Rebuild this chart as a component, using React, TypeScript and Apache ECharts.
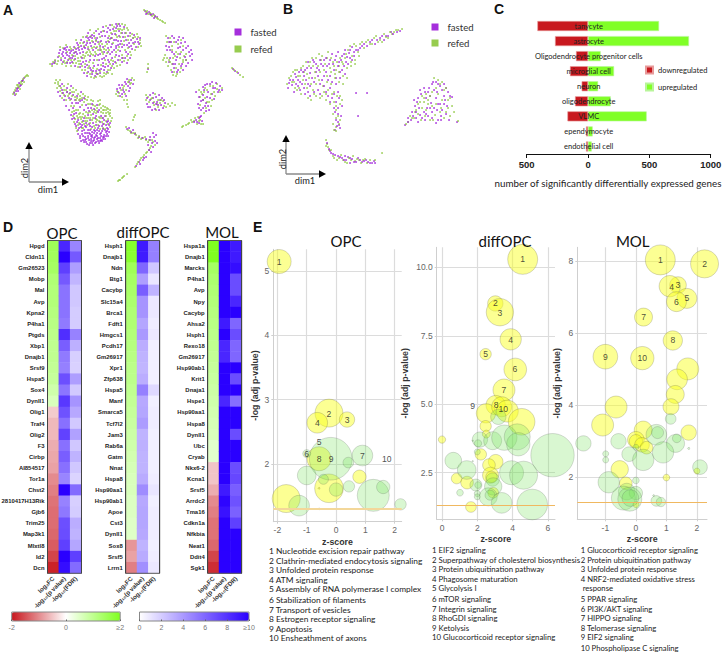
import React, { useEffect, useRef } from "react";
import * as echarts from "echarts";

const pairs = (f: number[]) => { const o: number[][] = []; for (let i = 0; i < f.length; i += 2) o.push([f[i], f[i + 1]]); return o; };

const tsneAFasted = pairs([52,64,54,63,60,50,62,54,64,49,66,53,67,47,69,56,71,51,65,58,68,60,61,60,58,57,63,62,72,62,75,59,77,54,79,50,81,46,83,52,85,48,87,43,89,40,91,46,93,50,95,44,97,38,99,34,101,41,103,47,105,36,107,32,109,42,111,38,113,29,115,34,117,26,119,31,121,41,123,37,118,45,114,50,110,54,106,56,102,59,98,55,94,60,90,56,86,61,82,58,125,33,128,36,131,40,134,35,137,39,139,44,136,47,132,49,128,54,125,58,122,62,127,63,130,58,118,60,113,64,108,66,104,70,100,73,96,71,92,74,88,72,94,66,98,65,85,67,81,64,75,66,70,63,116,55,120,51,111,47,96,31,92,35,88,33,84,42,78,45,74,47,103,27,110,25,116,24,120,26,70,53,73,50,76,52,63,56,66,50,88,38,90,37,93,42,96,48,100,50,104,52,108,48,112,44,116,40,119,36,122,47,108,60,103,63,99,60,95,76,91,70,87,76,84,73,127,45,133,43,130,33,
58,92,60,96,62,90,64,100,67,88,70,93,72,103,66,106,69,110,73,108,76,113,74,118,78,120,75,124,79,128,82,125,84,118,86,123,88,115,90,120,93,114,95,118,98,112,101,116,104,120,100,122,96,125,92,127,88,130,85,133,82,131,78,134,80,138,83,136,86,139,88,136,90,134,92,137,94,133,96,135,98,138,100,134,102,131,104,135,106,132,108,136,105,139,102,141,99,143,96,142,93,145,90,143,87,144,84,142,81,141,89,140,91,139,94,140,97,139,100,138,103,137,107,128,109,125,106,125,102,126,98,128,94,130,90,126,86,127,76,103,80,107,84,110,88,108,92,104,84,98,77,96,81,92,71,86,62,84,91,136,93,141,85,140,92,132,89,133,95,137,101,136,
14,93,16,91,18,88,20,86,19,83,22,81,24,78,21,85,17,89,145,11,147,13,149,12,151,15,153,14,155,16,157,17,
168,38,171,42,174,38,178,40,181,43,185,42,188,46,191,50,190,56,192,60,188,63,185,57,180,54,176,60,172,52,170,58,167,50,178,48,183,50,174,68,178,70,172,72,181,66,186,66,175,64,169,47,
118,92,120,88,122,85,125,82,128,86,131,80,129,91,124,92,126,96,120,96,127,79,133,84,
147,98,150,95,153,93,156,97,159,95,162,98,165,103,161,105,157,102,153,103,150,107,155,109,159,110,163,108,147,104,
203,87,207,84,212,82,216,83,220,86,222,90,218,92,213,88,208,92,203,95,199,97,201,101,206,103,210,98,214,99,208,106,203,108,201,110,206,111,196,120,199,118,201,116,194,122,199,123,202,121,233,69,235,71,238,73,
127,129,131,132,135,134,142,138,150,137,153,133,156,135,157,143,153,147,148,145,151,152,146,157,143,160,139,162,136,166,148,69,
55,61,59,53,63,52,65,48,67,55,69,50,70,58,73,56,74,53,76,49,78,48,80,53,82,49,84,47,86,45,88,49,90,43,92,38,94,36,96,40,98,42,100,46,102,36,104,31,106,42,108,38,110,30,112,34,114,40,116,46,118,41,120,44,122,33,124,45,126,40,129,43,131,46,133,38,135,42,138,42,140,38,116,28,119,24,124,27,108,28,101,32,86,37,81,40,77,43,72,58,67,63,80,67,83,62,87,65,90,68,93,71,97,74,101,69,105,67,109,62,112,58,115,62,119,56,122,58,126,52,129,47,111,68,107,72,103,66,99,70,90,60,95,56,100,54,104,58,108,52,112,52,116,48,
60,86,63,93,65,96,67,92,69,98,71,99,73,95,75,100,78,103,80,101,82,100,86,105,89,111,91,108,94,109,97,105,96,116,99,110,103,118,105,116,108,121,110,123,107,122,103,124,99,126,97,130,93,123,89,124,85,126,83,121,80,124,77,122,74,114,71,115,72,119,76,126,78,130,81,127,84,130,87,133,90,130,92,135,95,131,97,133,99,131,101,133,103,129,105,130,107,131,109,132,107,134,104,137,101,140,98,141,95,143,92,143,89,145,86,142,83,140,80,136,82,134,85,137,88,138,91,141,94,138,97,136,100,141,103,139,106,136,108,129,
15,95,18,91,23,80,146,14,150,14,154,18,169,42,172,36,176,42,179,37,183,38,186,48,189,52,186,60,182,64,177,57,173,64,170,50,166,46,177,72,183,70,174,54,169,62,192,54,180,47,119,85,123,90,126,84,130,88,122,94,117,89,129,82,150,100,153,98,156,104,160,100,164,100,148,107,152,110,158,105,205,85,210,84,215,88,219,90,212,94,207,97,203,100,198,104,205,106,209,110,204,90,196,92,199,108,197,122,200,117,129,128,133,130,139,137,146,139,150,140,154,137,155,141,152,143,149,150,144,158,140,164]);

const tsneARefedFront = pairs([50,64,53,62,57,64,59,56,61,58,64,61,66,66,69,59,72,55,74,60,76,63,78,58,80,61,83,55,85,56,87,52,89,50,91,54,93,55,95,52,97,47,99,44,101,50,103,54,105,46,107,44,109,36,111,33,112,25,114,27,118,24,122,24,124,29,126,33,127,28,121,33,117,37,113,43,109,50,105,60,101,65,97,69,93,63,89,62,85,70,82,70,87,73,91,77,96,77,100,76,104,76,108,73,110,70,114,68,117,66,120,65,124,61,128,60,131,55,122,55,118,50,125,50,128,48,134,44,100,37,96,41,92,41,88,47,84,46,80,43,83,37,87,36,76,40,90,30,94,33,98,29,103,31,106,26,116,31,120,37,124,41,128,40,133,38,137,34,140,40,141,46,70,47,66,45,75,48,60,47,71,66,65,63,55,60,111,60,107,53,115,57,102,44,97,60,93,68,89,66,78,67,112,74,106,64,
56,80,58,82,60,80,59,86,57,88,61,88,64,86,66,90,68,84,70,90,73,88,74,92,76,90,78,94,80,96,83,94,85,96,87,100,84,102,82,105,79,100,76,100,72,96,68,96,64,95,62,98,66,100,70,100,74,106,78,110,80,113,83,114,86,112,88,104,91,100,93,101,95,106,97,108,99,105,101,108,104,110,107,108,108,112,110,116,108,119,111,121,106,116,103,113,99,117,96,113,92,110,90,112,88,118,85,121,82,122,80,117,77,116,72,112,71,106,92,120,97,120,100,118,102,122,105,129,100,129,96,122,90,123,86,118,79,123,76,128,77,131,83,128,94,126,100,100,106,113,110,110,
13,94,15,90,17,85,19,87,21,82,23,79,25,77,27,75,28,76,24,82,20,89,16,94,18,85,22,84,144,10,146,12,148,14,150,13,152,16,154,15,157,18,160,20,163,22,165,23,
165,55,167,58,170,62,173,58,176,52,180,58,183,60,179,64,176,68,173,75,176,76,180,72,183,62,186,54,183,46,178,44,172,46,170,38,166,36,163,60,168,66,171,70,186,60,
116,94,118,96,121,90,124,86,128,82,130,84,132,78,134,80,122,97,124,100,127,104,128,107,
146,100,149,102,152,98,155,94,158,100,161,100,164,106,168,104,172,103,175,105,154,105,158,107,146,95,
199,90,201,92,205,88,210,86,214,92,217,89,222,88,211,94,205,98,209,102,200,105,211,106,204,113,183,126,186,125,189,123,192,122,195,118,198,117,197,124,203,124,200,120,232,68,234,70,237,72,240,75,243,77,148,64,148,68,147,72,133,120,134,117,135,115,
126,127,128,130,130,131,133,133,136,135,139,136,141,139,145,137,148,142,152,140,155,145,150,148,147,152,144,155,141,158,138,162,135,167,118,181,120,180,122,178,124,176,127,174]);

const tsneARefedBack = pairs([52,66,55,63,58,61,62,64,67,62,71,60,73,63,75,56,78,61,81,57,84,58,86,53,88,55,90,52,92,48,94,47,96,54,98,50,100,48,102,52,104,49,106,50,108,41,110,39,112,38,114,31,116,35,118,29,120,29,122,30,125,25,128,30,130,36,132,34,135,37,138,37,140,43,138,47,135,50,130,52,127,56,123,58,120,60,116,63,112,66,108,70,104,73,100,71,96,73,92,72,88,68,85,64,82,66,79,64,90,74,94,78,98,74,102,77,106,74,110,64,113,61,116,52,119,47,122,44,125,37,100,42,95,38,91,36,87,41,83,43,79,47,75,52,71,49,67,52,63,48,
55,83,58,84,60,91,62,93,64,90,67,92,69,94,72,92,75,97,77,98,80,99,82,98,85,99,88,97,90,104,93,105,95,110,98,101,100,104,103,106,105,107,108,109,110,113,112,118,109,114,106,110,103,110,101,112,97,111,94,112,91,115,88,113,85,116,82,117,79,114,76,110,74,111,73,116,75,119,78,118,81,119,84,124,87,121,90,118,93,118,96,119,99,121,102,118,104,124,106,121,108,124,110,127,103,128,98,125,95,128,91,129,87,125,82,128,78,125,74,122,
14,92,16,88,18,87,20,84,22,81,26,76,147,11,151,14,155,17,158,19,162,21,164,58,166,62,169,60,172,64,175,56,178,54,181,52,184,56,181,68,177,74,174,72,170,42,174,42,181,40,172,50,167,42,117,91,119,93,123,88,126,90,129,80,131,83,125,94,127,100,148,97,151,99,154,102,157,104,160,103,163,101,166,107,170,106,156,110,202,94,204,92,207,90,213,86,217,84,220,92,215,96,212,100,207,102,203,100,200,97,206,108,182,127,188,124,191,120,194,121,199,121,201,124,131,133,135,133,138,138,143,138,146,140,149,140,153,142,151,146,149,150,146,153,143,157,140,160,137,164,119,180,123,177]);

const tsneBFasted = pairs([288,88,290,80,292,85,295,74,298,80,301,70,304,76,307,68,310,73,314,62,317,68,320,60,323,66,326,58,329,64,332,54,335,60,338,52,342,56,345,50,349,53,352,47,356,50,360,48,364,44,367,46,372,40,375,44,380,38,384,40,388,36,393,34,397,32,400,31,294,92,298,86,302,84,306,80,310,86,314,82,318,76,322,80,326,72,330,76,334,70,338,66,342,70,346,62,350,58,354,56,300,90,305,94,310,96,318,90,324,86,330,88,336,84,340,78,345,74,338,92,332,98,328,96,336,102,342,106,334,108,338,122,337,126,340,128,335,130,335,112,341,116,356,93,367,93,358,116,
405,125,408,122,411,120,412,112,415,106,414,100,418,98,420,90,424,88,428,92,432,84,436,82,440,86,444,84,448,92,445,100,440,104,436,98,431,103,427,108,424,112,420,115,416,118,428,116,432,112,437,110,441,116,446,114,449,120,444,96,434,90,426,98,419,108,452,97,457,122,436,123,438,120,
327,143,329,149,331,153,335,155,340,157,344,160,348,157,352,159,356,162,360,160,364,161,368,162,372,163,375,163,345,156,350,163,
289,83,293,80,296,77,299,72,303,72,305,70,308,62,311,68,313,60,316,64,319,70,321,64,324,60,327,66,330,60,333,64,336,56,339,62,341,60,344,54,347,57,350,50,354,52,358,50,362,46,370,42,377,40,382,36,386,36,391,32,296,84,300,82,304,88,308,84,312,78,316,72,320,84,324,76,328,80,332,82,336,78,340,72,344,66,348,64,352,60,308,92,314,92,320,94,326,92,334,94,330,102,339,98,338,108,338,114,336,120,339,125,
408,118,413,116,416,112,417,102,421,94,425,92,429,88,433,82,438,84,442,90,446,88,450,96,447,106,442,110,438,104,434,108,430,108,426,114,422,118,418,122,425,120,432,118,441,120,444,104,437,92,430,96,
330,151,333,154,338,156,342,158,346,160,350,158,354,162,358,158,362,162,366,160,370,163,374,161]);

const tsneBRefedFront = pairs([287,84,291,76,294,82,297,70,300,76,303,66,306,62,309,66,312,58,315,72,319,54,322,56,325,64,328,52,331,58,334,66,337,62,340,58,343,64,346,54,350,46,354,44,358,52,362,42,366,42,370,44,374,38,378,42,382,42,386,37,390,32,394,32,398,30,402,29,293,72,297,90,301,94,305,84,309,78,313,90,316,84,320,72,324,92,327,82,331,72,335,78,339,72,343,84,347,68,351,62,355,60,359,56,311,100,316,96,322,96,328,90,334,92,340,96,342,100,336,106,330,104,326,100,333,114,336,118,340,120,333,124,339,124,334,130,336,131,
406,124,410,116,414,118,416,110,418,104,422,96,426,94,430,96,434,78,438,80,442,82,446,88,450,98,454,112,458,121,448,108,442,100,438,94,432,106,424,102,421,120,430,120,426,110,435,115,441,108,
326,140,326,146,328,147,331,150,333,156,337,160,341,155,345,162,349,158,353,156,357,159,361,163,365,159,370,160,382,153,375,160]);

const tsneBRefedBack = pairs([289,78,292,82,295,70,298,76,301,68,304,72,307,74,310,62,313,66,316,58,318,66,321,60,324,70,327,58,330,68,333,62,336,70,339,66,342,62,345,58,348,50,352,56,356,46,360,44,364,48,368,40,372,44,376,36,380,40,384,34,388,38,392,34,396,30,295,88,299,88,303,80,307,88,311,84,315,78,319,80,323,86,327,76,331,84,335,74,339,82,343,76,347,78,351,66,355,64,308,98,314,94,320,98,326,94,332,94,337,96,340,104,334,102,336,110,338,116,336,127,
408,122,412,118,415,112,420,102,424,98,428,100,432,92,436,88,440,84,444,90,448,100,452,106,446,112,440,112,436,104,428,104,422,108,418,114,433,120,444,118,450,116,425,116,
327,144,329,150,334,158,339,158,343,160,347,163,351,160,355,161,359,160,363,160,367,163]);

const cellTypes = ["tanycyte","astrocyte","Oligodendrocyte progenitor cells","microglial cell","neuron","oligodendrocyte","VLMC","ependymocyte","endothelial cell"];
const downregulated = [-413,-269,-98,-147,-52,-106,-168,-16,-16];
const upregulated = [579,823,103,212,82,185,478,38,30];

const heatColumns = ["log\u2082FC","-log\u2081\u2080(p value)","-log\u2081\u2080(FDR)"];
const opcGenes = ["Hpgd","Cldn11","Gm26523","Mobp","Mal","Avp","Kpna2","P4ha1","Ptgds","Xbp1","Dnajb1","Srsf9","Hspa5","Sox4","Dynll1","Olig1","Traf4","Olig2","F3","Cirbp","AI854517","Tor1a","Chst2","2810417H13Rik","Gjb6","Trim25","Map3k1","Mlxtl8","Id2","Dcn"];
const opcFC = [1.5,1.45,1.4,1.25,1.2,1.2,1.15,1.1,1.05,1.0,1.0,0.95,0.9,0.75,0.6,-0.45,-0.6,-0.6,-0.7,-0.75,-0.8,-1,-1.1,-1.2,-1.25,-1.25,-1.3,-1.4,-1.6,-1.9];
const opcP = [8.5,10,7.5,6.5,5.5,5.5,5.5,5.2,8.2,6.3,5.2,5,6.9,5.4,7.8,6.8,5.6,7.4,5.6,6.3,5.6,4.8,10,4.9,5.3,6.9,7,7.5,10,9.5];
const opcFDR = [4.8,6.5,3.8,2.9,2.2,2.2,2,2,4.9,3.1,1.9,1.8,3.8,2.1,4.2,3.4,2.1,3.7,2.2,3,2.2,1.7,5.8,1.9,2,3.2,3,3.5,7.5,5.8];
const diffGenes = ["Hsph1","Dnajb1","Ndn","Btg1","Cacybp","Slc15a4","Brca1","Fdft1","Hmgcs1","Pcdh17","Gm26917","Xpr1","Zfp638","Hspa5","Manf","Smarca5","Tcf7l2","Jam3","Rab6a","Gatm","Nnat","Hspa8","Hsp90aa1","Hsp90ab1","Apoe","Cst3","Dynll1","Sox8","Srsf5","Lrrn1"];
const diffFC = [1.9,1.85,1.5,1.4,1.35,1.3,1.25,1.25,1.2,1.15,1.1,1.05,1.05,1,0.95,0.9,0.85,0.8,0.75,0.7,0.65,0.6,0.6,0.55,0.55,0.5,0.5,-0.9,-0.8,-1.1];
const diffP = [9,9,6,3.8,6.3,4.2,4.2,3.5,4,3.2,3,2.9,3.2,5,3.4,3.5,3.9,3,3.1,3,3,3.3,4.5,3.4,3.5,3.5,3.4,3,3.3,4.4];
const diffFDR = [5,5,2.2,1,3,0.9,0.9,0.7,0.9,0.6,0.6,0.6,0.6,1.5,0.6,0.7,0.7,0.6,0.6,0.6,0.6,0.7,1,0.6,0.7,0.7,0.7,0.6,0.7,0.9];
const molGenes = ["Hspa1a","Dnajb1","Marcks","P4ha1","Avp","Npy","Cacybp","Ahsa2","Hsph1","Rexo18","Gm26917","Hsp90ab1","Krit1","Dnaja1","Hspe1","Hsp90aa1","Hspa8","Dynll1","Ubc","Cryab","Nkx6-2","Kcna1","Srsf5","Arrdc2","Tma16","Cdkn1a","Nfkbia","Neat1","Ddit4","Sgk1"];
const molFC = [2,2,1.4,1.3,1.25,1.2,1.15,1.1,1.05,1,0.95,0.9,0.85,0.8,0.75,0.7,0.65,0.6,0.45,0.45,-0.5,-0.5,-0.7,-1,-1.1,-1.2,-1.2,-1.3,-1.6,-1.8];
const molP = [10,10,10,10,10,10,10,9,10,8.5,8.5,10,10,10,8.5,10,10,10,10,10,10,10,9,9.8,9.3,10,10,10,10,10];
const molFDR = [9,9,9.5,7,7,8.5,10,6,7,6,6,10,7,10,5.7,10,10,7,10,10,7,7.2,6.3,6.8,6.2,7.5,10,10,10,10];

const opcYellow = [[-1.94,5.15,72],[-0.24,2.79,84],[0.375,2.69,46],[-0.64,2.64,62],[-0.58,2.08,72],[0.8,1.8,40],[-0.24,1.62,86],[-1.7,1.46,84],[-0.58,1.62,5]];
const opcGreen = [[-1,2.16,24],[-0.18,2.08,128],[0.9,2.13,62],[0.42,2.02,32],[-1,1.82,56],[-0.43,1.76,30],[0,1.6,40],[0.44,1.65,34],[1.27,1.51,96],[1.61,1.64,40],[-1.26,1.35,62],[2.2,1.37,34],[-0.58,1.3,5]];
const opcNumbers = [[-1.94,5.15,"1"],[-0.24,2.77,"2"],[0.375,2.69,"3"],[-0.64,2.64,"4"],[-0.58,2.34,"5"],[-1,2.16,"6"],[0.9,2.13,"7"],[-0.58,2.08,"8"],[-0.17,2.08,"9"],[1.73,2.08,"10"]];
const diffYellow = [[4.57,10.29,90],[3.02,8.68,46],[3.28,8.36,82],[3.89,7.37,64],[2.47,6.83,34],[4.15,6.27,68],[3.51,5.52,66],[3.04,4.97,58],[2.49,4.67,58],[3.38,4.91,60],[3.7,4.75,66],[4.51,4.36,80],[2.47,4.2,34],[2.51,3.91,24],[0,3.71,22],[2.2,3.17,34],[3.04,2.9,44],[2.66,2.78,38],[2.75,2.41,48],[2.8,2.35,34],[0.83,2.29,32],[1.42,2.14,38],[2.9,1.77,32],[1.64,1.25,32]];
const diffGreen = [[3.19,4.54,46],[2.15,3.71,46],[2.87,3.67,54],[3.53,3.78,76],[4.26,3.81,78],[4.32,3.54,70],[2.04,3.57,22],[6.26,3.14,130],[1.74,3.67,4],[2,3.26,18],[0.64,2.94,50],[1.4,2.6,56],[1.74,2.92,4],[3.94,2.5,72],[4.62,2.41,84],[1.92,2.05,36],[2.04,2.05,20],[1.02,1.77,20],[2,1.74,18],[2,1.62,18],[2.87,2.25,40],[2.9,2,52],[2.62,1.62,54],[2.72,1.68,30],[3.38,1.4,62],[5.11,1.34,92]];
const diffNumbers = [[4.57,10.29,"1"],[3.02,8.68,"2"],[3.28,8.33,"3"],[3.89,7.35,"4"],[2.47,6.83,"5"],[4.13,6.27,"6"],[3.51,5.52,"7"],[3.06,4.97,"8"],[1.74,4.93,"9"],[3.47,4.81,"10"]];
const molYellow = [[0.8,8.04,90],[2.25,7.93,84],[1.38,7.34,50],[1.11,7.31,64],[1.67,6.97,60],[1.33,6.88,60],[0.25,6.45,54],[1.21,5.8,58],[-1,5.35,74],[0.21,5.31,70],[1.7,5.01,66],[1.35,4.72,62],[1.29,4.3,54],[1.15,3.96,48],[-0.65,3.95,66],[-1.09,3.45,66],[0.24,3.31,54],[1.73,3.24,46],[0,3.04,50],[0,3,40],[0.2,2.9,44],[0.35,2.82,38],[-0.53,2.22,52],[2,2.17,18],[1,1.99,20],[-0.33,1.83,38],[0,1.24,18]];
const molGreen = [[1.14,3.62,32],[0.67,3.18,62],[0.71,3.24,36],[1.3,2.94,54],[1.34,3.08,26],[-1.72,2.94,46],[-0.57,3,46],[0,2.83,18],[-0.22,2.64,44],[0.24,2.48,64],[0.89,2.69,64],[1.73,2.8,6],[-0.99,2.65,18],[-0.99,2.48,18],[2.1,2.28,44],[0,1.91,20],[-0.89,1.86,64],[-0.3,1.6,50],[0,1.56,40],[-0.41,1.42,72],[-0.2,1.39,72],[-0.18,1.42,50],[0.67,1.34,32],[0.82,1.31,28],[0.58,1.49,5]];
const molNumbers = [[0.8,8.04,"1"],[2.25,7.93,"2"],[1.38,7.34,"3"],[1.17,7.28,"4"],[1.67,6.97,"5"],[1.33,6.88,"6"],[0.25,6.45,"7"],[1.21,5.8,"8"],[-1,5.35,"9"],[0.21,5.31,"10"]];

const opcPathways = ["1 Nucleotide excision repair pathway","2 Clathrin-mediated endocytosis signaling","3 Unfolded protein response","4 ATM signaling","5 Assembly of RNA polymerase I complex","6 Stabilization of filaments","7 Transport of vesicles","8 Estrogen receptor signaling","9 Apoptosis","10 Ensheathment of axons"];
const opcPathwayRows = [551,560.7,570.3,579.7,589.3,600.3,609.7,619,628.7,638];
const diffPathways = ["1 EIF2 signaling","2 Superpathway of cholesterol biosynthesis","3 Protein ubiquitination pathway","4 Phagosome maturation","5 Glycolysis I","6 mTOR signaling","7 Integrin signaling","8 RhoGDI signaling","9 Ketolysis","10 Glucocorticoid receptor signaling"];
const diffPathwayRows = [550.3,560,569.3,578.7,588.3,599.3,608.7,618,627.7,637.3];
const molPathways = ["1 Glucocorticoid receptor signaling","2 Protein ubiquitination pathway","3 Unfolded protein response","4 NRF2-mediated oxidative stress"," response","5 PPAR signaling","6 PI3K/AKT signaling","7 HIPPO signaling","8 Telomerase signaling","9 EIF2 signaling","10 Phospholipase C signaling"];
const molPathwayRows = [550.3,560,569.3,579,588.3,599,608.7,618,627.7,637.3,648];

const redGreenTicks = ["-2","0","\u22652"];
const blueTicks = ["0","2","4","6","8","\u226510"];

const CAL = "Lato";
const ARI = "Liberation Sans";
const PURPLE = "#9b18d8";
const LIME = "#8cc63c";

function App() {
  const ref = useRef<HTMLDivElement>(null);
  useEffect(() => {
    const chart = echarts.init(ref.current!, null, { renderer: "svg" });

    const hiddenAxis = (min: number, max: number, inverse = false, gridIndex = 0) => ({ type: "value", gridIndex, min, max, inverse, show: false });
    const grid: any[] = [];
    const xAxis: any[] = [];
    const yAxis: any[] = [];
    const series: any[] = [];
    const NB = { outerBoundsMode: "none" };

    // A, B
    grid.push({ left: 0, top: 0, width: 270, height: 200, ...NB });
    xAxis.push(hiddenAxis(0, 270, false, 0));
    yAxis.push(hiddenAxis(0, 200, true, 0));
    grid.push({ left: 270, top: 0, width: 210, height: 200, ...NB });
    xAxis.push(hiddenAxis(270, 480, false, 1));
    yAxis.push(hiddenAxis(0, 200, true, 1));
    const dots = (name: string, data: number[][], idx: number, color: string, size: number) => ({
      type: "scatter", name, data, xAxisIndex: idx, yAxisIndex: idx, symbolSize: size, itemStyle: { color, opacity: 0.9 }, silent: true,
    });
    series.push(dots("refed", tsneARefedBack, 0, LIME, 1.8), dots("fasted", tsneAFasted, 0, PURPLE, 1.8), dots("refed", tsneARefedFront, 0, LIME, 1.8));
    series.push(dots("refed", tsneBRefedBack, 1, LIME, 1.7), dots("fasted", tsneBFasted, 1, PURPLE, 1.7), dots("refed", tsneBRefedFront, 1, LIME, 1.7));

    // C
    grid.push({ left: 526.7, top: 18.5, width: 184, height: 135.5, ...NB });
    xAxis.push({
      type: "value", gridIndex: 2, min: -500, max: 1000, interval: 500,
      axisLine: { show: true, lineStyle: { color: "#111", width: 1 } },
      axisTick: { show: true, length: 4, lineStyle: { color: "#111" } },
      splitLine: { show: false },
      axisLabel: { formatter: (v: number) => String(Math.abs(v)), color: "#222", fontFamily: ARI, fontWeight: "bold", fontSize: 9.5, margin: 5 },
    });
    yAxis.push({
      type: "category", gridIndex: 2, data: cellTypes, inverse: true, z: 10, offset: -62,
      axisLine: { show: false }, axisTick: { show: false },
      axisLabel: { interval: 0, align: "center", margin: 0, fontFamily: CAL, fontSize: 7.5, color: "#222" },
    });
    const bar = (name: string, data: number[], color: string, border: string) => ({
      type: "bar", name, data, xAxisIndex: 2, yAxisIndex: 2, barWidth: 10, barGap: "-100%",
      itemStyle: { color, borderColor: border, borderWidth: 0.6 }, silent: true,
    });
    series.push(bar("downregulated", downregulated, "#c8181e", "#e89a9a"), bar("upregulated", upregulated, "#80ff26", "#b8f59a"));

    // D heatmaps
    const heatFCSeries: number[] = [];
    const heatBlueSeries: number[] = [];
    const heat = (left: number, genes: string[], fc: number[], p: number[], fdr: number[]) => {
      const i = grid.length;
      grid.push({ left, top: 240.5, width: 34, height: 332.8, show: true, borderColor: "#555", borderWidth: 1, backgroundColor: "transparent", z: 4, ...NB });
      xAxis.push({
        type: "category", gridIndex: i, data: heatColumns, position: "bottom", z: 6,
        axisLine: { show: false }, axisTick: { show: false },
        splitLine: { show: true, interval: (idx: number) => idx === 1, lineStyle: { color: "#444", width: 1 } },
        axisLabel: { interval: 0, rotate: 45, margin: 4, fontFamily: ARI, fontSize: 6.2, color: "#333", fontWeight: "bold" },
      });
      yAxis.push({
        type: "category", gridIndex: i, data: genes, inverse: true,
        axisLine: { show: false }, axisTick: { show: false },
        axisLabel: { interval: 0, margin: 3, fontFamily: ARI, fontSize: 5.9, fontWeight: "bold", color: "#222" },
      });
      heatFCSeries.push(series.length);
      series.push({ type: "heatmap", xAxisIndex: i, yAxisIndex: i, silent: true, progressive: 0, data: fc.map((v, r) => [0, r, v]) });
      heatBlueSeries.push(series.length);
      series.push({ type: "heatmap", xAxisIndex: i, yAxisIndex: i, silent: true, progressive: 0, data: [...p.map((v, r) => [1, r, v]), ...fdr.map((v, r) => [2, r, v])] });
    };
    heat(47.5, opcGenes, opcFC, opcP, opcFDR);
    heat(125.7, diffGenes, diffFC, diffP, diffFDR);
    heat(207.7, molGenes, molFC, molP, molFDR);

    // E bubbles
    const bubble = (left: number, right: number, top: number, bottom: number, xr: number[], yr: number[], xt: number[], yt: number[], yellow: any[], green: any[], numbers: any[], fix: boolean, nameGap: number, thr: number, thrColor: string) => {
      const i = grid.length;
      grid.push({ left, top, width: right - left, height: bottom - top, ...NB });
      const ln = { color: "#dcdcdc", width: 1.2 };
      xAxis.push({
        type: "value", gridIndex: i, min: xr[0], max: xr[1],
        axisLine: { show: true, lineStyle: { color: "#cfcfcf" } }, axisTick: { show: true, length: 2, customValues: xt, lineStyle: { color: "#cfcfcf" } },
        splitLine: { show: true, lineStyle: ln }, axisLabel: { customValues: xt, color: "#666", fontFamily: ARI, fontSize: 8.5, margin: 4 },
        name: "z-score", nameLocation: "middle", nameGap: 15.5, nameTextStyle: { fontFamily: ARI, fontSize: 8.8, fontWeight: "bold", color: "#333" },
      });
      yAxis.push({
        type: "value", gridIndex: i, min: yr[0], max: yr[1],
        axisLine: { show: true, onZero: false, lineStyle: { color: "#cfcfcf" } }, axisTick: { show: true, length: 2, customValues: yt, lineStyle: { color: "#cfcfcf" } },
        splitLine: { show: true, lineStyle: ln },
        axisLabel: { customValues: yt, color: "#666", fontFamily: ARI, fontSize: 8.5, margin: 4, formatter: (v: number) => (fix ? v.toFixed(1) : String(v)) },
        name: "-log (adj p-value)", nameLocation: "middle", nameRotate: 90, nameGap, nameTextStyle: { fontFamily: ARI, fontSize: 8.8, fontWeight: "bold", color: "#333" },
      });
      const size = (v: number[]) => v[2] / 3;
      series.push({
        type: "scatter", name: "activated", xAxisIndex: i, yAxisIndex: i, data: yellow, symbolSize: size, clip: true, silent: true,
        itemStyle: { color: "rgba(248,255,30,0.6)", borderColor: "rgba(90,90,60,0.5)", borderWidth: 0.6 },
        markLine: { silent: true, symbol: "none", label: { show: false }, data: [{ yAxis: 1.3 }], lineStyle: { type: "solid", color: thrColor, width: thr } },
      });
      series.push({
        type: "scatter", name: "inhibited", xAxisIndex: i, yAxisIndex: i, data: green, symbolSize: size, clip: true, silent: true,
        itemStyle: { color: "rgba(120,225,90,0.35)", borderColor: "rgba(80,90,80,0.45)", borderWidth: 0.6 },
      });
      series.push({
        type: "scatter", name: "numbers", xAxisIndex: i, yAxisIndex: i, data: numbers, symbolSize: 1, silent: true, z: 5,
        itemStyle: { color: "transparent" },
        label: { show: true, position: "inside", formatter: (p: any) => p.value[2], fontFamily: ARI, fontSize: 8.6, color: "#222" },
      });
    };
    bubble(273.3, 401.7, 249.3, 521.7, [-2.14, 2.24], [1.1, 5.34], [-2, -1, 0, 1, 2], [2, 3, 4, 5], opcYellow, opcGreen, opcNumbers, false, 14, 2, "#f3d79a");
    bubble(436.7, 555, 247.3, 519.3, [-0.3, 6.4], [0.8, 10.73], [0, 2, 4, 6], [2.5, 5, 7.5, 10], diffYellow, diffGreen, diffNumbers, true, 27, 1, "#f0b860");
    bubble(577.3, 707, 247.3, 519.3, [-1.92, 2.33], [0.83, 8.39], [-1, 0, 1, 2], [2, 4, 6, 8], molYellow, molGreen, molNumbers, false, 16, 1, "#f0b860");

    // colour bar axes
    const barAxis = (left: number, width: number, min: number, max: number, interval: number, fmt: (v: number) => string) => {
      const i = grid.length;
      grid.push({ left, top: 612, width, height: 9, show: true, borderColor: "#888", borderWidth: 1, backgroundColor: "transparent", z: 5, ...NB });
      xAxis.push({
        type: "value", gridIndex: i, min, max, interval, z: 6,
        axisLine: { show: false }, axisTick: { show: true, inside: true, length: 1.5, lineStyle: { color: "#666" } }, splitLine: { show: false },
        axisLabel: { formatter: fmt, color: "#777", fontFamily: ARI, fontSize: 7, margin: 3 },
      });
      yAxis.push({ type: "value", gridIndex: i, min: 0, max: 1, show: false });
    };
    barAxis(11.7, 108.5, -2, 2, 2, (v) => redGreenTicks[(v + 2) / 2]);
    barAxis(139.5, 109.5, 0, 10, 2, (v) => blueTicks[v / 2]);

    const cal = (text: string, x: number, y: number, size = 7.9, extra: any = {}) => ({
      type: "text", x, y, silent: true, style: { text, fill: "#222", fontFamily: CAL, fontSize: size, verticalAlign: "middle", ...extra },
    });
    const letter = (text: string, x: number, y: number) => ({
      type: "text", x, y, silent: true, style: { text, fill: "#111", fontFamily: ARI, fontWeight: "bold", fontSize: 14, verticalAlign: "middle" },
    });
    const arrow = (x0: number, y0: number, tipX: number, tipY: number, endX: number) => [
      { type: "line", silent: true, shape: { x1: x0, y1: y0, x2: x0, y2: tipY + 7 }, style: { stroke: "#8a8a8a", lineWidth: 1.3 } },
      { type: "line", silent: true, shape: { x1: x0, y1: y0, x2: endX, y2: y0 }, style: { stroke: "#8a8a8a", lineWidth: 1.3 } },
      { type: "polygon", silent: true, shape: { points: [[x0, tipY], [x0 - 3.7, tipY + 7], [x0 + 3.7, tipY + 7]] }, style: { fill: "#000" } },
      { type: "polygon", silent: true, shape: { points: [[tipX, y0], [tipX - 7, y0 - 3.7], [tipX - 7, y0 + 3.7]] }, style: { fill: "#000" } },
    ];
    const graphicElements: any[] = [
      letter("A", 3, 10), letter("B", 283, 9), letter("C", 494, 9), letter("D", 3, 227), letter("E", 253, 227),
      ...arrow(29, 182, 69, 142, 62),
      ...arrow(286, 174, 326, 135, 319),
      cal("number of significantly differentially expressed genes", 608, 183, 9.8, { align: "center" }),
      cal("dim2", 24, 168, 9.3, { align: "center" }),
      cal("dim1", 48, 189, 9.3, { align: "center" }),
      cal("dim2", 282, 159, 9.3, { align: "center" }),
      cal("dim1", 305, 180, 9.3, { align: "center" }),
    ];
    graphicElements[graphicElements.length - 4].rotation = Math.PI / 2;
    graphicElements[graphicElements.length - 2].rotation = Math.PI / 2;
    opcPathways.forEach((t, i) => graphicElements.push(cal(t, 269, opcPathwayRows[i], 8.4)));
    diffPathways.forEach((t, i) => graphicElements.push(cal(t, 432, diffPathwayRows[i], 7.8)));
    molPathways.forEach((t, i) => graphicElements.push(cal(t, 580.7, molPathwayRows[i], 7.7)));

    const title = (text: string, x: number, y: number) => ({
      text, left: x, top: y, textAlign: "center", padding: 0,
      textStyle: { fontFamily: CAL, fontSize: 15, fontWeight: "normal", color: "#111", lineHeight: 16 },
    });
    const scatterLegend = (left: number, top: number, gap: number) => ({
      data: ["fasted", "refed"], left, top, orient: "vertical", itemWidth: 7, itemHeight: 7, itemGap: gap, padding: 0, selectedMode: false,
      icon: "rect", textStyle: { fontFamily: CAL, fontSize: 9.6, color: "#333", padding: [0, 0, 0, 4] },
    });

    chart.setOption({
      animation: false,
      backgroundColor: "#fff",
      grid, xAxis, yAxis, series,
      title: [title("OPC", 62, 225), title("diffOPC", 143, 224), title("MOL", 222, 224), title("OPC", 346, 233), title("diffOPC", 505, 233), title("MOL", 632.7, 233)],
      legend: [
        scatterLegend(234.5, 27, 7),
        scatterLegend(431.5, 22, 6),
        { data: ["downregulated", "upregulated"], left: 645, top: 65.5, orient: "vertical", itemWidth: 7, itemHeight: 7, itemGap: 8, padding: 0, selectedMode: false, icon: "rect", textStyle: { fontFamily: CAL, fontSize: 7.5, color: "#222" } },
      ],
      visualMap: [
        { type: "continuous", seriesIndex: heatFCSeries, dimension: 2, min: -2, max: 2, orient: "horizontal", left: 11.7, top: 612, itemWidth: 9, itemHeight: 108.5, padding: 0, text: null, showLabel: false, calculable: false, hoverLink: false, inRange: { color: ["#c8161d", "#ffffff", "#80ff20"] }, textStyle: { fontSize: 0 } },
        { type: "continuous", seriesIndex: heatBlueSeries, dimension: 2, min: 0, max: 10, orient: "horizontal", left: 139.5, top: 612, itemWidth: 9, itemHeight: 109.5, padding: 0, text: null, showLabel: false, calculable: false, hoverLink: false, inRange: { color: ["#ffffff", "#2a00ff"] }, textStyle: { fontSize: 0 } },
      ],
      graphic: graphicElements,
    });
    return () => chart.dispose();
  }, []);
  return <div ref={ref} style={{ position: "absolute", left: 0, top: 0, width: 727, height: 656 }} />;
}

export default App;
